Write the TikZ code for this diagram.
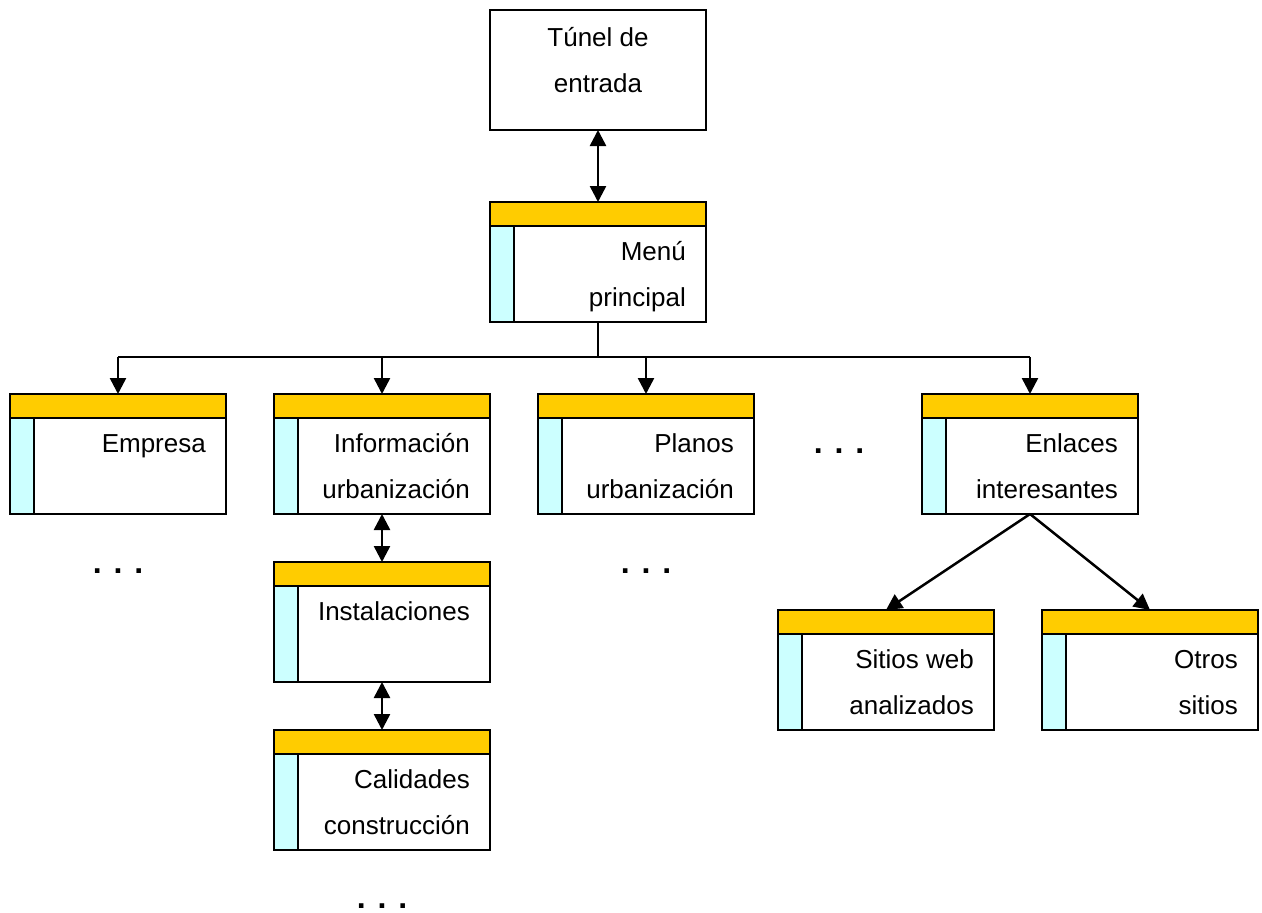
\documentclass[tikz,border=0pt]{standalone}
\usepackage{fontspec}
\setmainfont{Liberation Sans}
\usetikzlibrary{arrows.meta}
\definecolor{bar}{HTML}{FFCC00}
\definecolor{stripe}{HTML}{CCFFFF}
\tikzset{
  boxshape/.style={draw=black, line width=2.4pt, fill=white, minimum width=216pt, minimum height=120pt, inner sep=0pt, outer sep=0pt},
  boxtext/.style={inner sep=0pt, align=right, font=\fontsize{26}{46}\selectfont},
  conn/.style={line width=2.5pt, -{Triangle[length=16pt,width=16pt]}},
  biconn/.style={line width=2.5pt, {Triangle[length=16pt,width=16pt]}-{Triangle[length=16pt,width=16pt]}},
  dots/.style={inner sep=0pt, font=\bfseries\fontsize{32}{32}\selectfont},
}
\newcommand\menubox[4]{%
  \node[boxshape, anchor=north west] (#1) at (#2,#3) {};
  \fill[bar] (#1.north west) rectangle ([yshift=-24pt]#1.north east);
  \fill[stripe] ([yshift=-24pt]#1.north west) rectangle ([xshift=24pt]#1.south west);
  \draw[line width=2.4pt] ([yshift=-24pt]#1.north west) -- ([yshift=-24pt]#1.north east);
  \draw[line width=2.4pt] ([xshift=24pt,yshift=-24pt]#1.north west) -- ([xshift=24pt]#1.south west);
  \draw[line width=2.4pt] (#1.north west) rectangle (#1.south east);
  \node[boxtext, anchor=north east] (#1-t) at ([xshift=-20pt,yshift=-26pt]#1.north east) {#4};
}
\begin{document}
\begin{tikzpicture}[x=1pt,y=-1pt]
\useasboundingbox (0,0) rectangle (1262,913);
% top box
\node[boxshape, anchor=north west] (tunel) at (490,10) {};
\node[boxtext, align=center, anchor=north] (tunel-t) at ([yshift=-4pt]tunel.north) {\strut Túnel de\\\strut entrada};
\menubox{menu}{490}{202}{\strut Menú\\\strut principal}
\menubox{empresa}{10}{394}{\strut Empresa\\\strut}
\menubox{info}{274}{394}{\strut Información\\\strut urbanización}
\menubox{planos}{538}{394}{\strut Planos\\\strut urbanización}
\menubox{enlaces}{922}{394}{\strut Enlaces\\\strut interesantes}
\menubox{inst}{274}{562}{\strut Instalaciones\\\strut}
\menubox{cal}{274}{730}{\strut Calidades\\\strut construcción}
\menubox{sitios}{778}{610}{\strut Sitios web\\\strut analizados}
\menubox{otros}{1042}{610}{\strut Otros\\\strut sitios}
% connectors
\draw[biconn] (tunel.south) -- (menu.north);
\coordinate (bus) at (598,357);
\draw[line width=2.5pt] (menu.south) -- (bus);
\draw[line width=2.5pt] (empresa.north |- bus) -- (enlaces.north |- bus);
\draw[conn] (empresa.north |- bus) -- (empresa.north);
\draw[conn] (info.north |- bus) -- (info.north);
\draw[conn] (planos.north |- bus) -- (planos.north);
\draw[conn] (enlaces.north |- bus) -- (enlaces.north);
\draw[biconn] (info.south) -- (inst.north);
\draw[biconn] (inst.south) -- (cal.north);
\draw[conn] (enlaces.south) -- (sitios.north);
\draw[conn] (enlaces.south) -- (otros.north);
% dots
\node[dots, anchor=base] (d1) at (118,573) {. . .};
\node[dots, anchor=base] (d2) at (646,573) {. . .};
\node[dots, anchor=base] (d3) at (839,453) {. . .};
\node[dots, anchor=base] (d4) at (382,908) {. . .};
\end{tikzpicture}
\end{document}
